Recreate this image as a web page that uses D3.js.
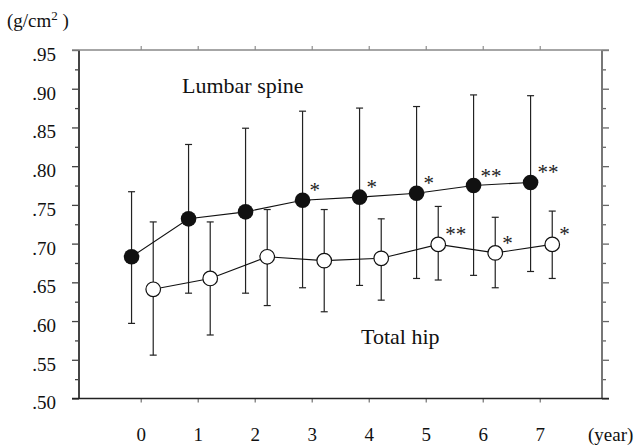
<!DOCTYPE html>
<html>
<head>
<meta charset="utf-8">
<script src="https://cdn.jsdelivr.net/npm/d3@7"></script>
<style>
  body { margin: 0; background: #fff; }
  svg { display: block; font-family: "Liberation Serif", "Times New Roman", serif; }
</style>
</head>
<body>
<svg id="chart_svg" width="641" height="445"></svg>
<script>
// values
var years = [0, 1, 2, 3, 4, 5, 6, 7];
var lumbarMean = [0.683, 0.732, 0.741, 0.756, 0.760, 0.765, 0.775, 0.779];
var lumbarHi   = [0.767, 0.828, 0.849, 0.871, 0.875, 0.877, 0.892, 0.891];
var lumbarLo   = [0.597, 0.636, 0.636, 0.643, 0.646, 0.655, 0.659, 0.664];
var hipMean = [0.641, 0.655, 0.683, 0.678, 0.681, 0.699, 0.688, 0.699];
var hipHi   = [0.728, 0.728, 0.744, 0.744, 0.732, 0.748, 0.734, 0.742];
var hipLo   = [0.556, 0.582, 0.620, 0.612, 0.627, 0.653, 0.643, 0.655];
var lumbarSig = ['', '', '', '*', '*', '*', '**', '**'];
var hipSig    = ['', '', '', '', '', '**', '*', '*'];
var yTicks = [0.50, 0.55, 0.60, 0.65, 0.70, 0.75, 0.80, 0.85, 0.90, 0.95];
var yMinor = [0.525, 0.575, 0.625, 0.675, 0.725, 0.775, 0.825, 0.875, 0.925];

document.addEventListener('DOMContentLoaded', function () {
    drawChart();
});

function drawChart() {
    const svg = d3.select('#chart_svg');
    const left = 79, right = 602, top = 50, bottom = 398.5;

    const x = d3.scaleLinear().domain([-1.082, 8.093]).range([left, right]);
    const y = d3.scaleLinear().domain([0.50, 0.95]).range([bottom, top]);

    // the two series sit a little off the year ticks
    const offLumbar = -0.16, offHip = 0.22;

    const fmt = function (d) { return d3.format('.2f')(d).replace(/^0/, ''); };

    // left axis, major + minor ticks
    svg.append('g')
        .attr('transform', `translate(${left},0)`)
        .call(d3.axisLeft(y).tickValues(yTicks).tickSize(7).tickFormat(fmt))
        .call(g => g.select('.domain').remove())
        .call(g => g.selectAll('line').attr('stroke', '#444').attr('stroke-width', 1.3))
        .call(g => g.selectAll('text')
            .attr('x', -23).attr('dy', '0.55em')
            .attr('font-size', 19).attr('fill', '#111')
            .style('font-family', '"Liberation Serif", serif'));
    svg.append('g')
        .attr('transform', `translate(${left},0)`)
        .call(d3.axisLeft(y).tickValues(yMinor).tickSize(4).tickFormat(''))
        .call(g => g.select('.domain').remove())
        .call(g => g.selectAll('line').attr('stroke', '#444').attr('stroke-width', 1.3));

    // right axis, ticks pointing out
    svg.append('g')
        .attr('transform', `translate(${right},0)`)
        .call(d3.axisRight(y).tickValues(yTicks).tickSize(7).tickFormat(''))
        .call(g => g.select('.domain').remove())
        .call(g => g.selectAll('line').attr('stroke', '#666').attr('stroke-width', 1.3));
    svg.append('g')
        .attr('transform', `translate(${right},0)`)
        .call(d3.axisRight(y).tickValues(yMinor).tickSize(4).tickFormat(''))
        .call(g => g.select('.domain').remove())
        .call(g => g.selectAll('line').attr('stroke', '#666').attr('stroke-width', 1.3));

    // bottom axis
    svg.append('g')
        .attr('transform', `translate(0,${bottom})`)
        .call(d3.axisBottom(x).tickValues(years).tickSize(4).tickFormat(d3.format('d')))
        .call(g => g.select('.domain').remove())
        .call(g => g.selectAll('line').attr('stroke', '#555'))
        .call(g => g.selectAll('text')
            .attr('y', 29).attr('font-size', 19).attr('fill', '#111')
            .style('font-family', '"Liberation Serif", serif'));

    // top axis
    svg.append('g')
        .attr('transform', `translate(0,${top})`)
        .call(d3.axisTop(x).tickValues(years).tickSize(4).tickFormat(''))
        .call(g => g.select('.domain').remove())
        .call(g => g.selectAll('line').attr('stroke', '#777'));

    // frame
    svg.append('line').attr('x1', left).attr('x2', left).attr('y1', top).attr('y2', bottom)
        .attr('stroke', '#444').attr('stroke-width', 2);
    svg.append('line').attr('x1', right).attr('x2', right).attr('y1', top).attr('y2', bottom)
        .attr('stroke', '#777').attr('stroke-width', 2);
    svg.append('line').attr('x1', left - 7).attr('x2', right + 7).attr('y1', top).attr('y2', top)
        .attr('stroke', '#888').attr('stroke-width', 1.5);
    svg.append('line').attr('x1', left - 7).attr('x2', right + 7).attr('y1', bottom).attr('y2', bottom)
        .attr('stroke', '#222').attr('stroke-width', 1.6);

    const lumbar = years.map((d, i) => ({ yr: d + offLumbar, m: lumbarMean[i], hi: lumbarHi[i], lo: lumbarLo[i], sig: lumbarSig[i] }));
    const hip = years.map((d, i) => ({ yr: d + offHip, m: hipMean[i], hi: hipHi[i], lo: hipLo[i], sig: hipSig[i] }));

    const cap = 3.5;
    function errorBars(data, cls) {
        const g = svg.append('g').attr('class', cls).attr('stroke', '#222').attr('stroke-width', 1.2);
        g.selectAll('line.v').data(data).enter().append('line').attr('class', 'v')
            .attr('x1', d => x(d.yr)).attr('x2', d => x(d.yr))
            .attr('y1', d => y(d.hi)).attr('y2', d => y(d.lo));
        g.selectAll('line.t').data(data).enter().append('line').attr('class', 't')
            .attr('x1', d => x(d.yr) - cap).attr('x2', d => x(d.yr) + cap)
            .attr('y1', d => y(d.hi)).attr('y2', d => y(d.hi));
        g.selectAll('line.b').data(data).enter().append('line').attr('class', 'b')
            .attr('x1', d => x(d.yr) - cap).attr('x2', d => x(d.yr) + cap)
            .attr('y1', d => y(d.lo)).attr('y2', d => y(d.lo));
    }
    errorBars(lumbar, 'err-lumbar');
    errorBars(hip, 'err-hip');

    const line = d3.line().x(d => x(d.yr)).y(d => y(d.m));
    svg.append('path').datum(lumbar).attr('d', line)
        .attr('fill', 'none').attr('stroke', '#111').attr('stroke-width', 1.1);
    svg.append('path').datum(hip).attr('d', line)
        .attr('fill', 'none').attr('stroke', '#111').attr('stroke-width', 1.1);

    svg.selectAll('circle.lumbar').data(lumbar).enter().append('circle')
        .attr('class', 'lumbar')
        .attr('cx', d => x(d.yr)).attr('cy', d => y(d.m)).attr('r', 7.8)
        .attr('fill', '#111');
    svg.selectAll('circle.hip').data(hip).enter().append('circle')
        .attr('class', 'hip')
        .attr('cx', d => x(d.yr)).attr('cy', d => y(d.m)).attr('r', 7.3)
        .attr('fill', '#fff').attr('stroke', '#111').attr('stroke-width', 1.2);

    // significance marks
    svg.selectAll('text.sig').data(lumbar.concat(hip).filter(d => d.sig !== '')).enter()
        .append('text').attr('class', 'sig')
        .attr('x', d => x(d.yr) + 7).attr('y', d => y(d.m) - 3)
        .attr('font-size', 21).attr('fill', '#222')
        .text(d => d.sig);

    // labels
    svg.append('text').attr('x', 182).attr('y', 93).attr('font-size', 22).attr('fill', '#111')
        .text('Lumbar spine');
    svg.append('text').attr('x', 361).attr('y', 344).attr('font-size', 22).attr('fill', '#111')
        .text('Total hip');
    svg.append('text').attr('x', 588).attr('y', 441).attr('font-size', 19).attr('fill', '#111')
        .text('(year)');

    const unit = svg.append('text').attr('x', 7).attr('y', 27).attr('font-size', 19).attr('fill', '#111');
    unit.append('tspan').text('(g/cm');
    unit.append('tspan').attr('font-size', 13).attr('dy', -7).text('2');
    unit.append('tspan').attr('dy', 7).text(' )');

    console.log('trace:drawChart()');
}
</script>
</body>
</html>
